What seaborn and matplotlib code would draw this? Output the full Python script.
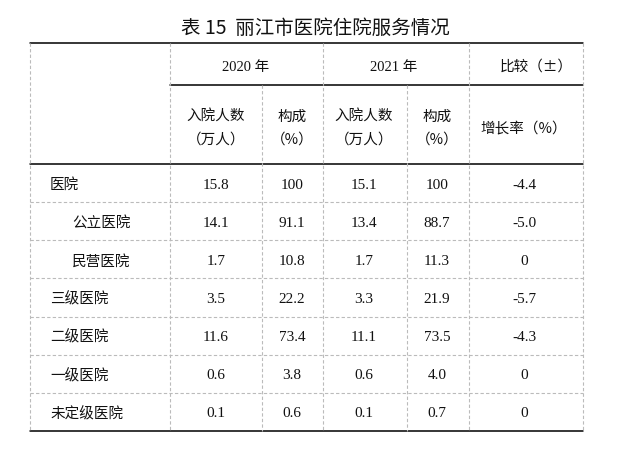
import matplotlib
matplotlib.use("Agg")
import matplotlib.pyplot as plt
import seaborn as sns

categories = ["医院", "公立医院", "民营医院", "三级医院", "二级医院", "一级医院", "未定级医院"]
indent = [False, True, True, False, False, False, False]
adm_2020 = ["15.8", "14.1", "1.7", "3.5", "11.6", "0.6", "0.1"]
pct_2020 = ["100", "91.1", "10.8", "22.2", "73.4", "3.8", "0.6"]
adm_2021 = ["15.1", "13.4", "1.7", "3.3", "11.1", "0.6", "0.1"]
pct_2021 = ["100", "88.7", "11.3", "21.9", "73.5", "4.0", "0.7"]
growth = ["-4.4", "-5.0", "0", "-5.7", "-4.3", "0", "0"]

sns.set_style("white")
cjk = "Noto Sans CJK SC"
num = "Liberation Serif"

fig = plt.figure(figsize=(6.31, 4.56), dpi=100)
ax = fig.add_axes([0, 0, 1, 1])
ax.set_xlim(0, 631); ax.set_ylim(456, 0); ax.axis("off")

L, R = 30, 583
xs_v = [170, 262, 323, 407, 469]
top, mid, hb, bot = 44, 86, 165, 432
row_h = (bot - hb) / 7
solid = dict(color="black", lw=1.1)
dash = dict(color="#bbbbbb", lw=0.8, ls=(0, (3, 2)))

ax.plot([L, R], [top, top], **solid)
ax.plot([170, R], [mid, mid], **solid)
ax.plot([L, R], [hb, hb], **solid)
ax.plot([L, R], [bot, bot], **solid)
for x in [L, R] + xs_v:
    if x in (262, 407):
        ax.plot([x, x], [mid, bot], **dash)
    else:
        ax.plot([x, x], [top, bot], **dash)
for i in range(1, 7):
    y = hb + i * row_h
    ax.plot([L, R], [y, y], **dash)

ax.text(315, 28, "表 15  丽江市医院住院服务情况", ha="center", va="center",
        fontsize=14, fontfamily=cjk, fontweight="medium", color="#111111")
tk = dict(ha="center", va="center", fontsize=10.5, color="#111111")
ax.text(246, 67, "2020 年", fontfamily=[num, cjk], **tk)
ax.text(394, 67, "2021 年", fontfamily=[num, cjk], **tk)
ax.text(536, 67, "比较（±）", fontfamily=cjk, **tk)
for cx in (216, 364):
    ax.text(cx, 117, "入院人数", fontfamily=cjk, **tk)
    ax.text(cx, 140, "（万人）", fontfamily=cjk, **tk)
for cx in (292, 437):
    ax.text(cx, 117, "构成", fontfamily=cjk, **tk)
    ax.text(cx, 140, "（%）", fontfamily=cjk, **tk)
ax.text(524, 129, "增长率（%）", fontfamily=cjk, **tk)

cols = [(216, adm_2020), (292, pct_2020), (364, adm_2021), (437, pct_2021), (524, growth)]
for i, cat in enumerate(categories):
    y = hb + (i + 0.5) * row_h + 1
    ax.text(72 if indent[i] else 50, y, cat, ha="left", va="center", fontsize=10.5,
            fontfamily=cjk, color="#111111")
    for cx, vals in cols:
        ax.text(cx, y, vals[i], ha="center", va="center", fontsize=11,
                fontfamily=num, color="#111111")

fig.savefig("out.png", dpi=100, facecolor="white")
